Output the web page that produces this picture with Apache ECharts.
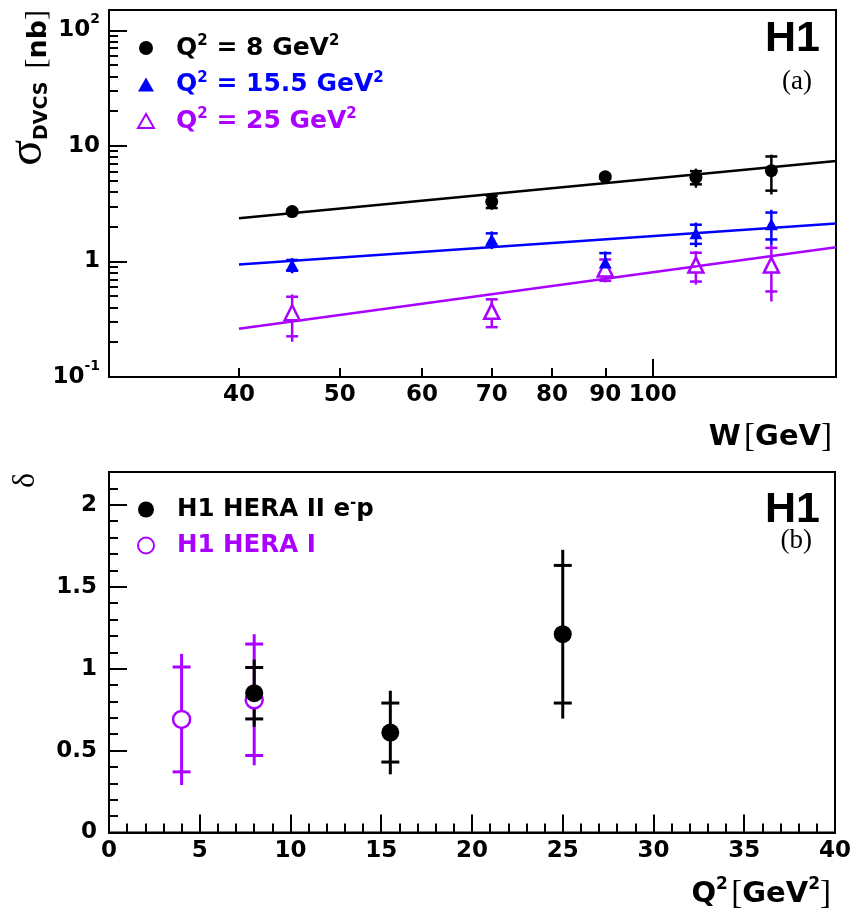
<!DOCTYPE html>
<html><head><meta charset="utf-8">
<script src="https://cdn.jsdelivr.net/npm/echarts@6/dist/echarts.min.js"></script>
<style>html,body{margin:0;padding:0;background:#fff}#c{width:854px;height:911px}</style>
</head><body><div id="c"></div>
<script>
// ---------- panel (a): sigma_DVCS vs W ----------
const wValues = [45, 70, 90, 110, 130];
const sigQ8 = [2.7, 3.3, 5.4, 5.35, 6.1];
const statQ8 = [0.1, 0.4, 0.2, 0.7, 2.0];
const totQ8 = [0.18, 0.5, 0.35, 1.0, 2.3];
const sigQ15 = [0.93, 1.55, 0.98, 1.75, 2.1];
const statQ15 = [0.1, 0.2, 0.2, 0.33, 0.55];
const totQ15 = [0.14, 0.27, 0.24, 0.42, 0.7];
const sigQ25 = [0.36, 0.37, 0.86, 0.93, 0.93];
const statQ25 = [0.135, 0.1, 0.18, 0.26, 0.38];
const totQ25 = [0.158, 0.105, 0.2, 0.3, 0.48];
const fitW = [40, 150];
const fitQ8 = [2.36, 7.4];
const fitQ15 = [0.94, 2.13];
const fitQ25 = [0.261, 1.33];
const xLabelsA = [40, 50, 60, 70, 80, 90, 100];
const xMajorA = [100];
const xMinorA = [40, 50, 60, 70, 80, 90];
const yMajorA = [0.1, 1, 10, 100];
const yMinorA = [0.2,0.3,0.4,0.5,0.6,0.7,0.8,0.9,2,3,4,5,6,7,8,9,20,30,40,50,60,70,80,90];
const legendA = ['Q² = 8 GeV²', 'Q² = 15.5 GeV²', 'Q² = 25 GeV²'];

// ---------- panel (b): delta vs Q2 ----------
const q2HeraII = [8, 15.5, 25];
const deltaHeraII = [0.85, 0.61, 1.21];
const statHeraII = [0.157, 0.18, 0.42];
const totHeraII = [0.205, 0.255, 0.515];
const q2HeraI = [4, 8];
const deltaHeraI = [0.69, 0.81];
const statHeraI = [0.32, 0.34];
const totHeraI = [0.40, 0.40];
const xMajorB = [0, 5, 10, 15, 20, 25, 30, 35, 40];
const xMinorB = [1,2,3,4,6,7,8,9,11,12,13,14,16,17,18,19,21,22,23,24,26,27,28,29,31,32,33,34,36,37,38,39];
const yMajorB = [0, 0.5, 1, 1.5, 2];
const yMinorB = [0.1,0.2,0.3,0.4,0.6,0.7,0.8,0.9,1.1,1.2,1.3,1.4,1.6,1.7,1.8,1.9,2.1];
const legendB = ['H1 HERA II e⁻p', 'H1 HERA I'];

const BLACK = '#000000', BLUE = '#0000ff', PURPLE = '#aa00ff';
const SANS = '"DejaVu Sans", "Liberation Sans", sans-serif';
const ARIAL = '"Liberation Sans", Arial, sans-serif';
const SERIF = '"Liberation Serif", "Times New Roman", serif';

const zip = (xs, ys) => xs.map((x, i) => [x, ys[i]]);
const zipErr = (xs, ys, s, t) => xs.map((x, i) => [x, ys[i], s[i], t[i]]);

function errRender(capHalf, lw, color) {
  return function (params, api) {
    const x = api.value(0), y = api.value(1), s = api.value(2), t = api.value(3);
    const c = api.coord([x, y]);
    const hi = api.coord([x, y + t]), lo = api.coord([x, y - t]);
    const shi = api.coord([x, y + s]), slo = api.coord([x, y - s]);
    const st = { stroke: color, lineWidth: lw };
    return { type: 'group', children: [
      { type: 'line', shape: { x1: c[0], y1: hi[1], x2: c[0], y2: lo[1] }, style: st },
      { type: 'line', shape: { x1: c[0] - capHalf, y1: shi[1], x2: c[0] + capHalf, y2: shi[1] }, style: st },
      { type: 'line', shape: { x1: c[0] - capHalf, y1: slo[1], x2: c[0] + capHalf, y2: slo[1] }, style: st }
    ]};
  };
}
function errSeries(name, data, xi, yi, capHalf, lw, color) {
  return { type: 'custom', name, xAxisIndex: xi, yAxisIndex: yi, dimensions: ['x', 'y', 's', 't'],
    encode: { x: 0, y: 1 }, renderItem: errRender(capHalf, lw, color), data, silent: true };
}

// legend text with real superscripts
const supLegend = name => name.split(/([²⁻])/).map(p =>
  p === '²' ? '{s|2}' : p === '⁻' ? '{s|-}' : (p ? '{t|' + p + '}' : '')).join('');

const tickLine = { color: BLACK, width: 2 };
const labelStyle = { fontFamily: SANS, fontWeight: 'bold', fontSize: 23, color: BLACK };

const supFmt = v => {
  if (Math.abs(v - 100) < 1e-9) return '{b|10}{s|2}';
  if (Math.abs(v - 10) < 1e-9) return '{b|10}';
  if (Math.abs(v - 1) < 1e-9) return '{b|1}';
  return '{b|10}{s|-1}';
};

const option = {
  animation: false,
  backgroundColor: '#ffffff',
  grid: [
    { left: 109, right: 18, top: 10, height: 367, show: true, borderColor: BLACK, borderWidth: 2, backgroundColor: 'transparent' },
    { left: 109, right: 18, top: 472, height: 361, show: true, borderColor: BLACK, borderWidth: 2, backgroundColor: 'transparent' }
  ],
  title: [
    { text: 'H1', right: 34, top: 18, padding: 0, textStyle: { fontFamily: ARIAL, fontWeight: 'bold', fontSize: 43, lineHeight: 43, color: BLACK } },
    { text: '(a)', right: 42, top: 68, padding: 0, textStyle: { fontFamily: SERIF, fontWeight: 'normal', fontSize: 27, lineHeight: 28, color: BLACK } },
    { text: 'H1', right: 34, top: 489, padding: 0, textStyle: { fontFamily: ARIAL, fontWeight: 'bold', fontSize: 43, lineHeight: 43, color: BLACK } },
    { text: '(b)', right: 42, top: 527, padding: 0, textStyle: { fontFamily: SERIF, fontWeight: 'normal', fontSize: 27, lineHeight: 28, color: BLACK } }
  ],
  legend: [
    { orient: 'vertical', left: 132, top: 29, itemGap: 8.5, itemWidth: 16, itemHeight: 14, selectedMode: false,
      formatter: supLegend,
      textStyle: { fontFamily: SANS, fontWeight: 'bold', fontSize: 25, lineHeight: 28, padding: [0, 0, 0, 17],
        rich: { t: { fontFamily: SANS, fontWeight: 'bold', fontSize: 25, lineHeight: 28 },
                s: { fontFamily: SANS, fontWeight: 'bold', fontSize: 15, verticalAlign: 'top', lineHeight: 16 } } },
      data: [
        { name: legendA[0], textStyle: { color: BLACK } },
        { name: legendA[1], textStyle: { color: BLUE } },
        { name: legendA[2], textStyle: { color: PURPLE } }
      ] },
    { orient: 'vertical', left: 132, top: 491, itemGap: 9, itemWidth: 16, itemHeight: 16, selectedMode: false,
      formatter: supLegend,
      textStyle: { fontFamily: SANS, fontWeight: 'bold', fontSize: 24.5, lineHeight: 27, padding: [0, 0, 0, 18],
        rich: { t: { fontFamily: SANS, fontWeight: 'bold', fontSize: 24.5, lineHeight: 27 },
                s: { fontFamily: SANS, fontWeight: 'bold', fontSize: 15, verticalAlign: 'top', lineHeight: 16 } } },
      data: [
        { name: legendB[0], textStyle: { color: BLACK } },
        { name: legendB[1], textStyle: { color: PURPLE } }
      ] }
  ],
  xAxis: [
    { type: 'log', gridIndex: 0, position: 'bottom', min: 30, max: 150, logBase: 10,
      name: '{b|W} {r|[}{b|GeV}{r|]}', nameLocation: 'end', nameGap: -4, nameMoveOverlap: false,
      nameTextStyle: { align: 'right', verticalAlign: 'top', padding: [42, 0, 0, 0],
        rich: { b: { fontFamily: SANS, fontWeight: 'bold', fontSize: 29, lineHeight: 36, color: BLACK },
                r: { fontFamily: SERIF, fontSize: 33, lineHeight: 36, color: BLACK } } },
      axisLine: { show: true, lineStyle: tickLine },
      axisTick: { show: true, inside: true, length: 18, lineStyle: tickLine, customValues: xMajorA },
      axisLabel: Object.assign({ customValues: xLabelsA, margin: 7, formatter: v => String(Math.round(v)) }, labelStyle),
      splitLine: { show: false }, minorTick: { show: false } },
    { type: 'log', gridIndex: 0, position: 'bottom', offset: 0, min: 30, max: 150, logBase: 10,
      axisLine: { show: false },
      axisTick: { show: true, inside: true, length: 9, lineStyle: tickLine, customValues: xMinorA },
      axisLabel: { show: false }, splitLine: { show: false } },
    { type: 'value', gridIndex: 1, position: 'bottom', min: 0, max: 40,
      name: '{b|Q}{s|2} {r|[}{b|GeV}{s|2}{r|]}', nameLocation: 'end', nameGap: -4, nameMoveOverlap: false,
      nameTextStyle: { align: 'right', verticalAlign: 'top', padding: [44, 0, 0, 0],
        rich: { b: { fontFamily: SANS, fontWeight: 'bold', fontSize: 29, lineHeight: 36, color: BLACK },
                s: { fontFamily: SANS, fontWeight: 'bold', fontSize: 17, verticalAlign: 'top', lineHeight: 18, color: BLACK },
                r: { fontFamily: SERIF, fontSize: 33, lineHeight: 36, color: BLACK } } },
      axisLine: { show: true, lineStyle: tickLine },
      axisTick: { show: true, inside: true, length: 18, lineStyle: tickLine, customValues: xMajorB },
      axisLabel: Object.assign({ customValues: xMajorB, margin: 7 }, labelStyle),
      splitLine: { show: false } },
    { type: 'value', gridIndex: 1, position: 'bottom', offset: 0, min: 0, max: 40,
      axisLine: { show: false },
      axisTick: { show: true, inside: true, length: 9, lineStyle: tickLine, customValues: xMinorB },
      axisLabel: { show: false }, splitLine: { show: false } }
  ],
  yAxis: [
    { type: 'log', gridIndex: 0, position: 'left', min: 0.1, max: 150, logBase: 10,
      name: '{g|σ}{d|DVCS}{r|[}{b|nb}{r|]}', nameLocation: 'end', nameRotate: 90, nameGap: 0, nameMoveOverlap: false,
      nameTextStyle: { align: 'right', verticalAlign: 'bottom', padding: [0, 0, 57, 0],
        rich: { g: { fontFamily: SERIF, fontSize: 48, lineHeight: 50, verticalAlign: 'bottom', color: BLACK },
                d: { fontFamily: SANS, fontWeight: 'bold', fontSize: 19, lineHeight: 24, verticalAlign: 'bottom', padding: [0, 13, 0, 0], color: BLACK },
                b: { fontFamily: SANS, fontWeight: 'bold', fontSize: 27, lineHeight: 34, verticalAlign: 'bottom', color: BLACK },
                r: { fontFamily: SERIF, fontSize: 30, lineHeight: 34, verticalAlign: 'bottom', color: BLACK } } },
      axisLine: { show: true, lineStyle: tickLine },
      axisTick: { show: true, inside: true, length: 18, lineStyle: tickLine, customValues: yMajorA },
      axisLabel: { customValues: yMajorA, margin: 9, formatter: supFmt,
        rich: { b: { fontFamily: SANS, fontWeight: 'bold', fontSize: 23, lineHeight: 36, color: BLACK },
                s: { fontFamily: SANS, fontWeight: 'bold', fontSize: 14, verticalAlign: 'top', color: BLACK } } },
      splitLine: { show: false } },
    { type: 'log', gridIndex: 0, position: 'left', offset: 0, min: 0.1, max: 150, logBase: 10,
      axisLine: { show: false },
      axisTick: { show: true, inside: true, length: 9, lineStyle: tickLine, customValues: yMinorA },
      axisLabel: { show: false }, splitLine: { show: false } },
    { type: 'value', gridIndex: 1, position: 'left', min: 0, max: 2.2,
      name: 'δ', nameLocation: 'end', nameRotate: 90, nameGap: -1, nameMoveOverlap: false,
      nameTextStyle: { align: 'right', verticalAlign: 'bottom', padding: [0, 0, 67, 0], fontFamily: SERIF, fontSize: 32, lineHeight: 32, color: BLACK },
      axisLine: { show: true, lineStyle: tickLine },
      axisTick: { show: true, inside: true, length: 18, lineStyle: tickLine, customValues: yMajorB },
      axisLabel: Object.assign({ customValues: yMajorB, margin: 12 }, labelStyle),
      splitLine: { show: false } },
    { type: 'value', gridIndex: 1, position: 'left', offset: 0, min: 0, max: 2.2,
      axisLine: { show: false },
      axisTick: { show: true, inside: true, length: 9, lineStyle: tickLine, customValues: yMinorB },
      axisLabel: { show: false }, splitLine: { show: false } }
  ],
  series: [
    { type: 'line', name: 'fit8', xAxisIndex: 0, yAxisIndex: 0, data: zip(fitW, fitQ8), showSymbol: false, lineStyle: { color: BLACK, width: 2.5 }, silent: true },
    { type: 'line', name: 'fit15', xAxisIndex: 0, yAxisIndex: 0, data: zip(fitW, fitQ15), showSymbol: false, lineStyle: { color: BLUE, width: 2.5 }, silent: true },
    { type: 'line', name: 'fit25', xAxisIndex: 0, yAxisIndex: 0, data: zip(fitW, fitQ25), showSymbol: false, lineStyle: { color: PURPLE, width: 2.5 }, silent: true },
    errSeries('err25', zipErr(wValues, sigQ25, statQ25, totQ25), 0, 0, 6, 2.5, PURPLE),
    { type: 'scatter', name: legendA[2], xAxisIndex: 0, yAxisIndex: 0, data: zip(wValues, sigQ25), symbol: 'triangle', symbolSize: 15,
      itemStyle: { color: '#ffffff', borderColor: PURPLE, borderWidth: 2.5, opacity: 1 } },
    errSeries('err15', zipErr(wValues, sigQ15, statQ15, totQ15), 0, 0, 6, 2.5, BLUE),
    { type: 'scatter', name: legendA[1], xAxisIndex: 0, yAxisIndex: 0, data: zip(wValues, sigQ15), symbol: 'triangle', symbolSize: [13, 12],
      itemStyle: { color: BLUE, opacity: 1 } },
    errSeries('err8', zipErr(wValues, sigQ8, statQ8, totQ8), 0, 0, 6, 2.5, BLACK),
    { type: 'scatter', name: legendA[0], xAxisIndex: 0, yAxisIndex: 0, data: zip(wValues, sigQ8), symbol: 'circle', symbolSize: 13,
      itemStyle: { color: BLACK, opacity: 1 } },

    errSeries('errI', zipErr(q2HeraI, deltaHeraI, statHeraI, totHeraI), 2, 2, 9, 3, PURPLE),
    { type: 'scatter', name: legendB[1], xAxisIndex: 2, yAxisIndex: 2, data: zip(q2HeraI, deltaHeraI), symbol: 'circle', symbolSize: 17,
      itemStyle: { color: '#ffffff', borderColor: PURPLE, borderWidth: 2.5, opacity: 1 } },
    errSeries('errII', zipErr(q2HeraII, deltaHeraII, statHeraII, totHeraII), 2, 2, 9, 3, BLACK),
    { type: 'scatter', name: legendB[0], xAxisIndex: 2, yAxisIndex: 2, data: zip(q2HeraII, deltaHeraII), symbol: 'circle', symbolSize: 18,
      itemStyle: { color: BLACK, opacity: 1 } }
  ]
};
const chart = echarts.init(document.getElementById('c'), null, { renderer: 'canvas' });
chart.setOption(option);
</script></body></html>
